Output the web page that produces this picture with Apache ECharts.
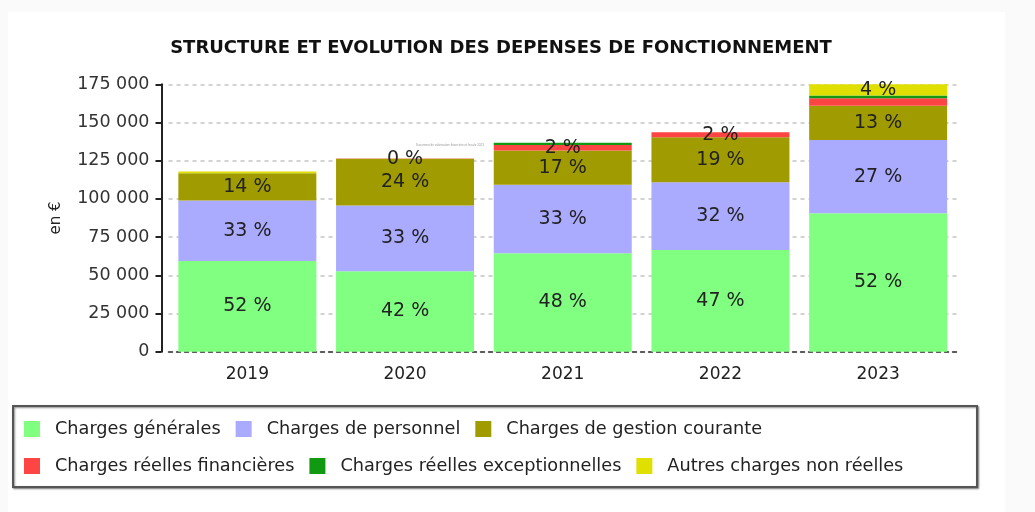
<!DOCTYPE html>
<html>
<head>
<meta charset="utf-8">
<script src="https://cdn.jsdelivr.net/npm/echarts@6/dist/echarts.min.js"></script>
<style>
  html, body { margin: 0; padding: 0; background: #fafafa; }
  #chart { width: 1035px; height: 512px; }
</style>
</head>
<body>
<div id="chart"></div>
<script>
const years = ['2019', '2020', '2021', '2022', '2023']
const yTicks = [0, 25000, 50000, 75000, 100000, 125000, 150000, 175000]

// montants en €
const chargesGenerales = [59400, 52700, 64400, 66600, 90600]
const chargesPersonnel = [39500, 42900, 44800, 44300, 48000]
const chargesGestion = [17900, 30600, 22400, 29500, 22300]
const chargesFinancieres = [0, 300, 3600, 3300, 5000]
const chargesExceptionnelles = [0, 0, 1500, 0, 1700]
const autresCharges = [1100, 0, 0, 0, 8600]

// pourcentages affichés sur les barres (null = pas d'étiquette)
const pctGenerales = [52, 42, 48, 47, 52]
const pctPersonnel = [33, 33, 33, 32, 27]
const pctGestion = [14, 24, 17, 19, 13]
const pctFinancieres = [null, 0, 2, 2, null]
const pctExceptionnelles = [null, null, null, null, null]
const pctAutres = [null, null, null, null, 4]

const seriesDefs = [
  { name: 'Charges générales', data: chargesGenerales, pct: pctGenerales, color: '#80ff80' },
  { name: 'Charges de personnel', data: chargesPersonnel, pct: pctPersonnel, color: '#aaaaff' },
  { name: 'Charges de gestion courante', data: chargesGestion, pct: pctGestion, color: '#a09c00' },
  { name: 'Charges réelles financières', data: chargesFinancieres, pct: pctFinancieres, color: '#ff4444' },
  { name: 'Charges réelles exceptionnelles', data: chargesExceptionnelles, pct: pctExceptionnelles, color: '#119911' },
  { name: 'Autres charges non réelles', data: autresCharges, pct: pctAutres, color: '#e0e000' }
]

const fmt = v => String(v).replace(/\B(?=(\d{3})+(?!\d))/g, ' ')
const font = 'DejaVu Sans, sans-serif'

const legendBase = {
  itemWidth: 16, itemHeight: 16, itemGap: 15,
  icon: 'rect',
  padding: 0,
  selectedMode: false,
  textStyle: { fontFamily: font, fontSize: 17.7, lineHeight: 18, color: '#222', padding: [0, 0, 0, 10] }
}

const chart = echarts.init(document.getElementById('chart'))
chart.setOption({
  animation: false,
  textStyle: { fontFamily: font },
  title: {
    text: 'STRUCTURE ET EVOLUTION DES DEPENSES DE FONCTIONNEMENT',
    left: 496,
    textAlign: 'center',
    top: 34,
    textStyle: { fontFamily: font, fontWeight: 'bold', fontSize: 18, color: '#111' }
  },
  graphic: [
    {
      type: 'rect', z: -10, silent: true,
      shape: { x: 8, y: 12, width: 997, height: 500 },
      style: { fill: '#ffffff' }
    },
    {
      type: 'rect', z: -5, silent: true,
      shape: { x: 13, y: 406, width: 964, height: 81 },
      style: {
        fill: '#ffffff', stroke: '#555', lineWidth: 2,
        shadowBlur: 2, shadowColor: 'rgba(0,0,0,0.45)', shadowOffsetX: 1, shadowOffsetY: 1
      }
    },
    {
      type: 'text', silent: true, x: 416, y: 144,
      style: { text: 'Document de valorisation financière et fiscale 2023', fontSize: 3, fill: '#999' }
    }
  ],
  legend: [
    Object.assign({}, legendBase, { data: seriesDefs.slice(0, 3).map(s => s.name), left: 24, top: 420 }),
    Object.assign({}, legendBase, { data: seriesDefs.slice(3).map(s => s.name), left: 24, top: 457 })
  ],
  grid: { left: 168.5, top: 84.3, width: 788.5, height: 267.4 },
  xAxis: {
    type: 'category',
    data: years,
    axisLine: { lineStyle: { color: '#333', width: 1.5, type: [4, 4] } },
    axisTick: { show: false },
    axisLabel: { fontFamily: font, fontSize: 17, color: '#222', margin: 14 }
  },
  yAxis: {
    type: 'value',
    min: yTicks[0],
    max: yTicks[yTicks.length - 1],
    interval: yTicks[1] - yTicks[0],
    offset: 7,
    name: 'en €',
    nameLocation: 'middle',
    nameGap: 98,
    nameRotate: 90,
    nameTextStyle: { fontFamily: font, fontSize: 15, color: '#222' },
    axisLine: { show: true, lineStyle: { color: '#222', width: 2 } },
    axisTick: { show: true, length: 6, lineStyle: { color: '#222', width: 2 } },
    axisLabel: { fontFamily: font, fontSize: 17.5, color: '#333', margin: 12, formatter: v => fmt(v) },
    splitLine: { lineStyle: { color: '#c4c4c4', width: 1.5, type: [4, 4] } }
  },
  series: seriesDefs.map(s => ({
    name: s.name,
    type: 'bar',
    stack: 'total',
    data: s.data,
    barCategoryGap: '12.5%',
    itemStyle: { color: s.color },
    label: {
      show: true,
      position: 'inside',
      fontFamily: font,
      fontSize: 19,
      color: '#222',
      formatter: p => (s.pct[p.dataIndex] == null ? '' : s.pct[p.dataIndex] + ' %')
    }
  }))
})
window.addEventListener('resize', () => chart.resize())
</script>
</body>
</html>
